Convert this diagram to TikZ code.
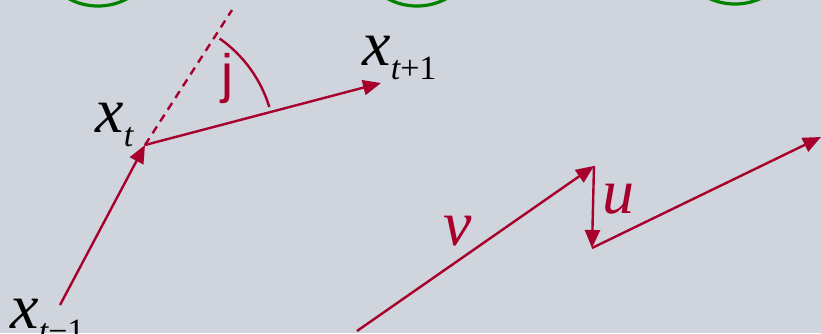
\documentclass[tikz,border=0pt]{standalone}
\usepackage{fontspec}
\setmainfont{Liberation Serif}
\newfontfamily\timesit{Liberation Serif Italic}
\newfontfamily\timesup{Liberation Serif}
\newfontfamily\sansj{Liberation Sans}
\usetikzlibrary{arrows.meta}
\definecolor{vecred}{RGB}{168,0,44}
\definecolor{slidegray}{RGB}{208,212,220}
\definecolor{ringgreen}{RGB}{0,132,0}
\newcommand{\lowsub}[1]{\raisebox{-7pt}{\fontsize{17}{20}\selectfont\timesit #1}}
\tikzset{
  vec/.style={vecred, line width=1.2pt, -{Triangle[length=9pt,width=7.5pt]}},
  ring/.style={draw=ringgreen, line width=1.6pt},
  lbl/.style={inner sep=0pt, anchor=base west, font=\fontsize{32}{36}\selectfont\timesit},
}

\begin{document}
\begin{tikzpicture}[x=0.5pt, y=-0.5pt]
\useasboundingbox (0,0) rectangle (821,333);
\fill[slidegray] (0,0) rectangle (821,333);
\clip (0,0) rectangle (821,333);
% rings at the top edge
\draw[ring] (98,-56) circle[radius=62];
\draw[ring] (417,-56) circle[radius=62];
\draw[ring] (735,-58) circle[radius=62];
% points of the path
\coordinate (xtm1) at (60,305);
\coordinate (xt) at (145,145);
\coordinate (xtp1) at (381,83);
\coordinate (dashend) at (232,10);
\draw[vec] (xtm1) -- (xt);
\draw[vec] (xt) -- (xtp1);
\draw[vecred, line width=1.2pt, dash pattern=on 4pt off 3pt] (xt) -- (dashend);
\draw[vecred, line width=1.2pt] (xt) ++(-55:130) arc[start angle=-55, end angle=-17, radius=130];
\node[lbl, vecred, font=\fontsize{27}{30}\selectfont\sansj] (ang) at (221,92) {j};
\node[lbl] (labt) at (95,132) {x\lowsub{t}};
\node[lbl] (labtp1) at (362,65) {x\lowsub{t{\timesup+1}}};
\node[lbl] (labtm1) at (10,328) {x\lowsub{t{\timesup\textminus1}}};
% v and u
\coordinate (v0) at (357,331);
\coordinate (v1) at (594,166);
\coordinate (u1) at (592,248);
\coordinate (w1) at (821,137);
\draw[vec] (v0) -- (v1);
\draw[vec] (v1) -- (u1);
\draw[vec] (u1) -- (w1);
\node[lbl, vecred] (labv) at (443,245) {v};
\node[lbl, vecred] (labu) at (602,213) {u};
\end{tikzpicture}
\end{document}
